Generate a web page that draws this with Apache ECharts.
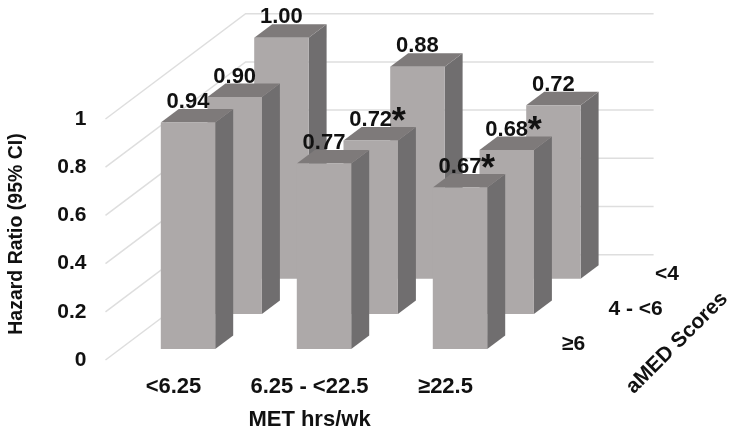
<!DOCTYPE html>
<html lang="en">

<head>
    <meta charset="UTF-8">
    <title>Hazard Ratio by MET and aMED</title>
    <script src="https://cdn.jsdelivr.net/npm/echarts@6/dist/echarts.min.js"></script>
    <style>
        html, body { margin: 0; padding: 0; background: #fff; }
    </style>
</head>

<body>
    <div id="main" style="width:735px;height:435px;"></div>
    <script>
        var metCategories = ['<6.25', '6.25 - <22.5', '≥22.5'];
        // front row to back row
        var amedCategories = ['≥6', '4 - <6', '<4'];
        var yTicks = [0, 0.2, 0.4, 0.6, 0.8, 1];
        var hrHigh = [0.94, 0.77, 0.67];
        var hrMid = [0.90, 0.72, 0.68];
        var hrLow = [1.00, 0.88, 0.72];
        var starHigh = [false, false, true];
        var starMid = [false, true, true];
        var starLow = [false, false, false];

        // fake 3d projection, pixels
        var rowDx = 46.7, rowDy = -35.1;
        var frontDx = 14.5, frontDy = -11;
        var barDx = 18, barDy = -13.5;
        var barShare = 0.4;

        var FONT = 'bold 21px "Liberation Sans", Arial, sans-serif';
        var VALUE_FONT = 'bold 22px "Liberation Sans", Arial, sans-serif';
        var STAR_FONT = 'bold 36px "Liberation Sans", Arial, sans-serif';
        var TEXT_COLOR = '#111';

        // back row first so nearer bars paint over it
        var barData = [];
        [[hrLow, starLow, 2], [hrMid, starMid, 1], [hrHigh, starHigh, 0]].forEach(function (row) {
            row[0].forEach(function (v, i) {
                barData.push([i, v, row[2], row[1][i] ? 1 : 0]);
            });
        });

        function renderBar(params, api) {
            var row = api.value(2);
            var top = api.coord([api.value(0), api.value(1)]);
            var base = api.coord([api.value(0), 0]);
            var w = api.size([1, 0])[0] * barShare;
            var x0 = top[0] + frontDx + row * rowDx - w / 2;
            var x1 = x0 + w;
            var yt = top[1] + frontDy + row * rowDy;
            var yb = base[1] + frontDy + row * rowDy;
            return {
                type: 'group',
                children: [{
                    type: 'polygon',
                    shape: { points: [[x1, yt], [x1 + barDx, yt + barDy], [x1 + barDx, yb + barDy], [x1, yb]] },
                    style: { fill: '#706e6f' }
                }, {
                    type: 'polygon',
                    shape: { points: [[x0, yt], [x0 + barDx, yt + barDy], [x1 + barDx, yt + barDy], [x1, yt]] },
                    style: { fill: '#7e7a7a' }
                }, {
                    type: 'rect',
                    shape: { x: x0, y: yt, width: w, height: yb - yt },
                    style: { fill: '#ada9a9' }
                }]
            };
        }

        function renderValue(params, api) {
            var row = api.value(2);
            var top = api.coord([api.value(0), api.value(1)]);
            var x = top[0] + frontDx + row * rowDx;
            var y = top[1] + frontDy + row * rowDy - 20.5;
            var kids = [{
                type: 'text',
                style: { text: api.value(1).toFixed(2), x: x, y: y, font: VALUE_FONT, fill: TEXT_COLOR, align: 'center', verticalAlign: 'middle' }
            }];
            if (api.value(3)) {
                kids.push({
                    type: 'text',
                    style: { text: '*', x: x + 21, y: y + 3, font: STAR_FONT, fill: TEXT_COLOR, align: 'left', verticalAlign: 'middle' }
                });
            }
            return { type: 'group', children: kids };
        }

        // diagonal on the side wall, then straight across the back wall
        function renderWall(params, api) {
            var v = api.value(1);
            var size = api.size([1, 0])[0];
            var p = api.coord([0, v]);
            var x0 = p[0] - size / 2;
            var x1 = x0 + rowDx * 3;
            var y1 = p[1] + rowDy * 3;
            return {
                type: 'polyline',
                shape: { points: [[x0, p[1]], [x1, y1], [x1 + size * metCategories.length, y1]] },
                style: { fill: null, stroke: '#dedede', lineWidth: 1.5 }
            };
        }

        function renderDepthLabel(params, api) {
            var row = api.value(2);
            var p = api.coord([metCategories.length - 1, 0]);
            var size = api.size([1, 0])[0];
            return {
                type: 'text',
                style: {
                    text: amedCategories[row],
                    x: p[0] + size / 2 + 48.5 + row * 46.5,
                    y: p[1] - 16 + row * rowDy,
                    font: FONT,
                    fill: TEXT_COLOR,
                    align: 'left',
                    verticalAlign: 'middle'
                }
            };
        }

        var myChart = echarts.init(document.getElementById('main'));
        var option = {
            backgroundColor: '#fff',
            animation: false,
            grid: { left: 105.5, right: 221.5, top: 119, bottom: 75, outerBoundsMode: 'none' },
            xAxis: {
                type: 'category',
                data: metCategories,
                axisLine: { show: false },
                axisTick: { show: false },
                axisLabel: { interval: 0, hideOverlap: false, margin: 16, color: TEXT_COLOR, fontWeight: 'bold', fontSize: 22, fontFamily: 'Liberation Sans' },
                name: 'MET hrs/wk',
                nameLocation: 'middle',
                nameGap: 49,
                nameTextStyle: { color: TEXT_COLOR, fontWeight: 'bold', fontSize: 22, fontFamily: 'Liberation Sans' }
            },
            yAxis: {
                type: 'value',
                min: 0,
                max: 1,
                interval: 0.2,
                axisLine: { show: false },
                axisTick: { show: false },
                splitLine: { show: false },
                axisLabel: { margin: 19, color: TEXT_COLOR, fontWeight: 'bold', fontSize: 21, fontFamily: 'Liberation Sans' },
                name: 'Hazard Ratio (95% CI)',
                nameLocation: 'middle',
                nameGap: 79,
                nameTextStyle: { color: TEXT_COLOR, fontWeight: 'bold', fontSize: 19.5, fontFamily: 'Liberation Sans', padding: [0, 0, 0, 11] }
            },
            graphic: [{
                type: 'text',
                x: 677,
                y: 343,
                rotation: Math.PI / 4,
                style: {
                    text: 'aMED Scores',
                    font: FONT,
                    fill: TEXT_COLOR,
                    align: 'center',
                    verticalAlign: 'middle'
                }
            }],
            series: [{
                type: 'custom',
                renderItem: renderWall,
                clip: false,
                silent: true,
                z: 1,
                data: yTicks.map(function (v) { return [0, v]; })
            }, {
                type: 'custom',
                renderItem: renderBar,
                clip: false,
                silent: true,
                z: 2,
                data: barData
            }, {
                type: 'custom',
                renderItem: renderValue,
                clip: false,
                silent: true,
                z: 3,
                data: barData
            }, {
                type: 'custom',
                renderItem: renderDepthLabel,
                clip: false,
                silent: true,
                z: 3,
                data: amedCategories.map(function (c, i) { return [0, 0, i]; })
            }]
        };
        myChart.setOption(option);
    </script>
</body>

</html>
